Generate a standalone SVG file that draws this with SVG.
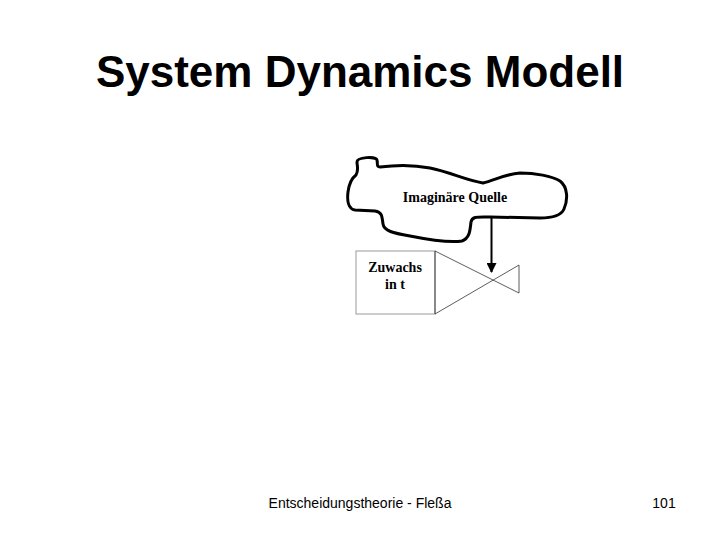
<svg xmlns="http://www.w3.org/2000/svg" width="720" height="540" viewBox="0 0 720 540">
<style>
.title{font-family:"Liberation Sans",Arial,sans-serif;font-weight:bold;font-size:44px;fill:#000}
.foot{font-family:"Liberation Sans",Arial,sans-serif;font-size:14px;fill:#000}
.lbl{font-family:"Liberation Serif","Times New Roman",serif;font-weight:bold;font-size:14px;fill:#000}
.cloud{fill:#fff;stroke:#000;stroke-width:3;stroke-linejoin:round}
.thin{fill:none;stroke:#333;stroke-width:0.8}
</style>
<defs>
<marker id="ah" markerWidth="10" markerHeight="10" refX="9" refY="5" orient="auto" markerUnits="userSpaceOnUse">
<path d="M0,0 L10,5 L0,10 Z" fill="#000"/>
</marker>
</defs>
<rect width="720" height="540" fill="#fff"/>
<text class="title" x="360" y="87" text-anchor="middle">System Dynamics Modell</text>
<g id="quelle">
<path class="cloud" d="M357,162 C357,157 376,156 377,160 C378,164 376,167 380,167 C395,165 415,165 430,168 C450,172 465,180 483,183 C495,180 505,174 520,173 C535,173 552,176 560,181 C568,187 568,200 564,209 C561,216 552,218 540,218 L490,217 C478,217 472,216 471,222 C470,230 470,238 462,241 C450,243 430,240 410,236 C393,233 384,231 383,224 C382,216 382,212 375,211 L355,210 C348,209 347,200 348,192 C349,184 352,178 356,175 C359,170 357,166 357,162 Z"/>
<text class="lbl" x="455" y="202" text-anchor="middle">Imaginäre Quelle</text>
</g>
<g id="zuwachs">
<rect x="356" y="251" width="79" height="63" fill="#fff" stroke="#999" stroke-width="1"/>
<line x1="435" y1="251" x2="435" y2="314" stroke="#444" stroke-width="1"/>
<text class="lbl" x="395" y="272" text-anchor="middle">Zuwachs</text>
<text class="lbl" x="395" y="289" text-anchor="middle">in t</text>
</g>
<g id="ventil">
<path class="thin" d="M435,251 L519,293 L519,265 L435,314"/>
</g>
<g id="connectors">
<line x1="491.5" y1="218" x2="491.5" y2="272" stroke="#000" stroke-width="2" marker-end="url(#ah)"/>
</g>
<text class="foot" x="360" y="508" text-anchor="middle">Entscheidungstheorie - Fleßa</text>
<text class="foot" x="664" y="508" text-anchor="middle">101</text>
</svg>
